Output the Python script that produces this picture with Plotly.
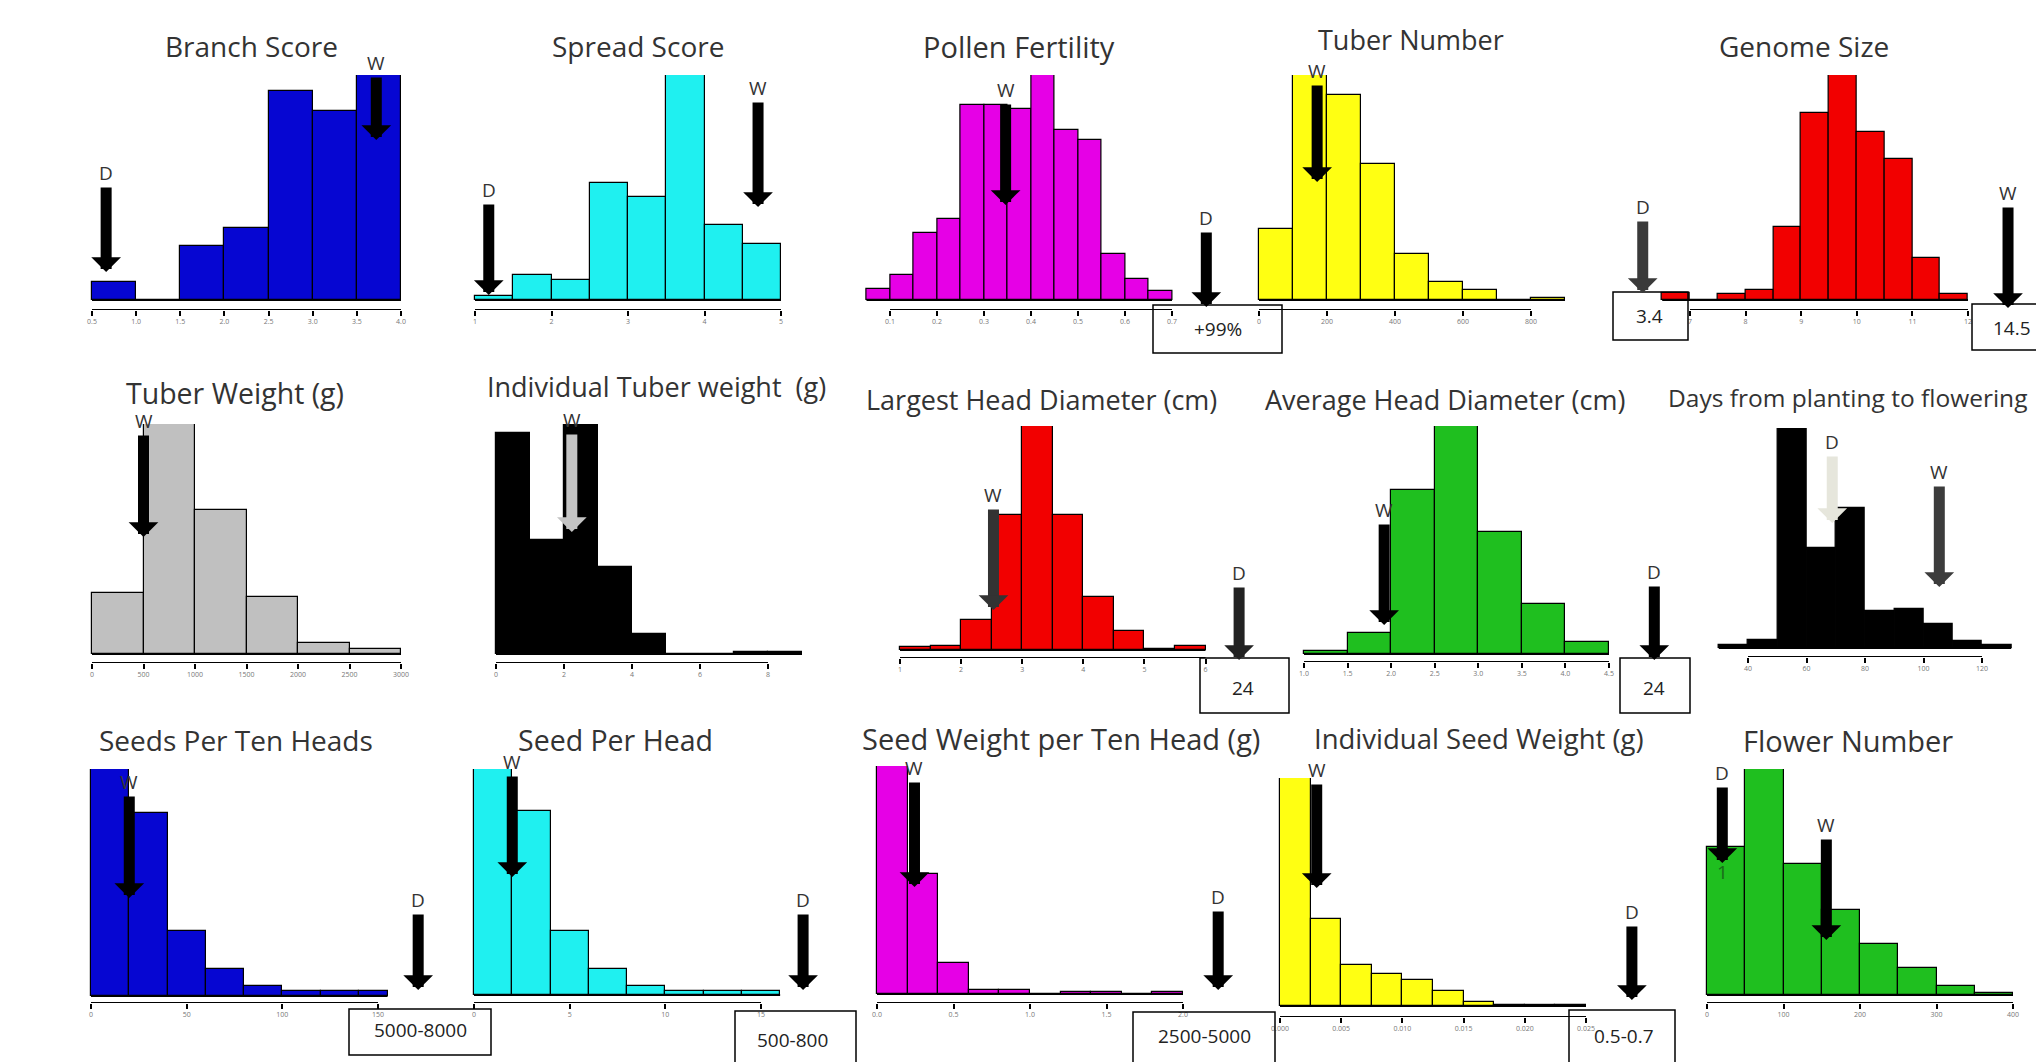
import plotly.graph_objects as go

FIG_W, FIG_H = 2036, 1062

# ------------------------------------------------------------------ data
branch_edges = [0.5, 1.0, 1.5, 2.0, 2.5, 3.0, 3.5, 4.0]
branch_counts = [8, 0, 24, 32, 93, 84, 100]
branch_ticks = [0.5, 1.0, 1.5, 2.0, 2.5, 3.0, 3.5, 4.0]
branch_labels = ["0.5", "1.0", "1.5", "2.0", "2.5", "3.0", "3.5", "4.0"]
branch_D, branch_W = 0.66, 3.72

spread_edges = [1.0, 1.5, 2.0, 2.5, 3.0, 3.5, 4.0, 4.5, 5.0]
spread_counts = [1.8, 11, 9, 52, 45.6, 100, 33.3, 25]
spread_ticks = [1, 2, 3, 4, 5]
spread_labels = ["1", "2", "3", "4", "5"]
spread_D, spread_W = 1.18, 4.7

pollen_edges = [0.05, 0.10, 0.15, 0.20, 0.25, 0.30, 0.35, 0.40, 0.45, 0.50, 0.55, 0.60, 0.65, 0.70]
pollen_counts = [5, 11, 30, 36, 86.7, 86.7, 85, 100, 75.5, 71, 20.4, 9.2, 4.1]
pollen_ticks = [0.1, 0.2, 0.3, 0.4, 0.5, 0.6, 0.7]
pollen_labels = ["0.1", "0.2", "0.3", "0.4", "0.5", "0.6", "0.7"]
pollen_D, pollen_W = 0.773, 0.346

tubnum_edges = [0, 100, 200, 300, 400, 500, 600, 700, 800, 900]
tubnum_counts = [31.4, 100, 91, 60.4, 20.3, 8.1, 4.4, 0, 1]
tubnum_ticks = [0, 200, 400, 600, 800]
tubnum_labels = ["0", "200", "400", "600", "800"]
tubnum_W = 171

genome_edges = [6.5, 7.0, 7.5, 8.0, 8.5, 9.0, 9.5, 10.0, 10.5, 11.0, 11.5, 12.0]
genome_counts = [3, 0, 2.7, 4.4, 32.6, 83, 100, 74.5, 62.5, 18.8, 2.5]
genome_ticks = [7, 8, 9, 10, 11, 12]
genome_labels = ["7", "8", "9", "10", "11", "12"]
genome_D, genome_W = 6.15, 12.72

tubwt_edges = [0, 500, 1000, 1500, 2000, 2500, 3000]
tubwt_counts = [26.7, 100, 62.4, 25, 4.9, 2]
tubwt_ticks = [0, 500, 1000, 1500, 2000, 2500, 3000]
tubwt_labels = ["0", "500", "1000", "1500", "2000", "2500", "3000"]
tubwt_W = 500

indtub_edges = [0, 1, 2, 3, 4, 5, 6, 7, 8, 9]
indtub_counts = [96.3, 49.5, 100, 38, 8.6, 0, 0, 1, 1]
indtub_ticks = [0, 2, 4, 6, 8]
indtub_labels = ["0", "2", "4", "6", "8"]
indtub_W = 2.23

lhead_edges = [1.0, 1.5, 2.0, 2.5, 3.0, 3.5, 4.0, 4.5, 5.0, 5.5, 6.0]
lhead_counts = [1.2, 1.8, 13.4, 60.3, 100, 60.3, 23.8, 8.6, 0.3, 1.8]
lhead_ticks = [1, 2, 3, 4, 5, 6]
lhead_labels = ["1", "2", "3", "4", "5", "6"]
lhead_D, lhead_W = 6.55, 2.53

ahead_edges = [1.0, 1.5, 2.0, 2.5, 3.0, 3.5, 4.0, 4.5]
ahead_counts = [1.5, 9.4, 72, 100, 53.5, 22, 5.4]
ahead_ticks = [1.0, 1.5, 2.0, 2.5, 3.0, 3.5, 4.0, 4.5]
ahead_labels = ["1.0", "1.5", "2.0", "2.5", "3.0", "3.5", "4.0", "4.5"]
ahead_D, ahead_W = 5.02, 1.92

days_edges = [30, 40, 50, 60, 70, 80, 90, 100, 110, 120, 130]
days_counts = [1.2, 3.5, 100, 45.5, 63.6, 17, 17.6, 11, 3.3, 1.2]
days_ticks = [40, 60, 80, 100, 120]
days_labels = ["40", "60", "80", "100", "120"]
days_D, days_W = 68.8, 105.4

sten_edges = [0, 20, 40, 60, 80, 100, 120, 140, 155]
sten_counts = [100, 80.6, 28.6, 12.1, 4.4, 2.2, 2.2, 2.2]
sten_ticks = [0, 50, 100, 150]
sten_labels = ["0", "50", "100", "150"]
sten_D, sten_W = 171, 20

sph_edges = [0, 2, 4, 6, 8, 10, 12, 14, 16]
sph_counts = [100, 81.2, 28.3, 11.5, 4, 1.9, 1.9, 1.9]
sph_ticks = [0, 5, 10, 15]
sph_labels = ["0", "5", "10", "15"]
sph_D, sph_W = 17.2, 2.0

swt_edges = [0, 0.2, 0.4, 0.6, 0.8, 1.0, 1.2, 1.4, 1.6, 1.8, 2.0]
swt_counts = [100, 52.5, 13.6, 1.9, 1.9, 0, 0.7, 0.7, 0, 0.7]
swt_ticks = [0.0, 0.5, 1.0, 1.5, 2.0]
swt_labels = ["0.0", "0.5", "1.0", "1.5", "2.0"]
swt_D, swt_W = 2.23, 0.245

isw_edges = [0, 0.0025, 0.005, 0.0075, 0.010, 0.0125, 0.015, 0.0175, 0.020, 0.0225, 0.025]
isw_counts = [100, 38.2, 18, 14, 11.4, 6.7, 1.9, 0.6, 0.6, 0.6]
isw_ticks = [0, 0.005, 0.010, 0.015, 0.020, 0.025]
isw_labels = ["0.000", "0.005", "0.010", "0.015", "0.020", "0.025"]
isw_D, isw_W = 0.02875, 0.003

flower_edges = [0, 50, 100, 150, 200, 250, 300, 350, 400]
flower_counts = [65.7, 100, 58, 37.6, 22.5, 11.8, 4.1, 0.74]
flower_ticks = [0, 100, 200, 300, 400]
flower_labels = ["0", "100", "200", "300", "400"]
flower_D, flower_W = 20, 156

# ------------------------------------------------------------------ layout spec (pixels)
panels = [
    dict(title="Branch Score", tsize=28, edges=branch_edges, counts=branch_counts, ticks=branch_ticks,
         labels=branch_labels, color="#0606d2", tickpx=(92, 401), base=300, top=75, axis=310, tpos=(251, 46),
         arrows=[("D", branch_D, 173, 272, "black"), ("W", branch_W, 63, 140, "black")], boxes=[]),
    dict(title="Spread Score", tsize=28, edges=spread_edges, counts=spread_counts, ticks=spread_ticks,
         labels=spread_labels, color="#1ff0f0", tickpx=(475, 781), base=300, top=75, axis=310, tpos=(638, 46),
         arrows=[("D", spread_D, 190, 295, "black"), ("W", spread_W, 88, 207, "black")], boxes=[]),
    dict(title="Pollen Fertility", tsize=29, edges=pollen_edges, counts=pollen_counts, ticks=pollen_ticks,
         labels=pollen_labels, color="#e600e6", tickpx=(890, 1172), base=300, top=75, axis=310, tpos=(1019, 46),
         arrows=[("W", pollen_W, 90, 205, "black"), ("D", pollen_D, 218, 307, "black")],
         boxes=[((1153, 305, 1282, 353), "+99%", (1218, 329))]),
    dict(title="Tuber Number", tsize=27, edges=tubnum_edges, counts=tubnum_counts, ticks=tubnum_ticks,
         labels=tubnum_labels, color="#ffff12", tickpx=(1259, 1531), base=300, top=75, axis=310, tpos=(1411, 39),
         arrows=[("W", tubnum_W, 71, 182, "black")], boxes=[]),
    dict(title="Genome Size", tsize=28, edges=genome_edges, counts=genome_counts, ticks=genome_ticks,
         labels=genome_labels, color="#f20000", tickpx=(1690, 1968), base=300, top=75, axis=310, tpos=(1804, 46),
         arrows=[("D", genome_D, 207, 293, "#3a3a3a"), ("W", genome_W, 193, 308, "black")],
         boxes=[((1613, 292, 1688, 340), "3.4", (1649, 316)), ((1972, 304, 2040, 350), "14.5", (2012, 328))]),
    dict(title="Tuber Weight (g)", tsize=28.5, edges=tubwt_edges, counts=tubwt_counts, ticks=tubwt_ticks,
         labels=tubwt_labels, color="#c0c0c0", tickpx=(92, 401), base=654, top=424, axis=663, tpos=(235, 393),
         arrows=[("W", tubwt_W, 421, 537, "black")], boxes=[]),
    dict(title="Individual Tuber weight  (g)", tsize=27, edges=indtub_edges, counts=indtub_counts,
         ticks=indtub_ticks, labels=indtub_labels, color="#000000", tickpx=(496, 768), base=654, top=424,
         axis=663, tpos=(656, 386), arrows=[("W", indtub_W, 420, 532, "#c4c4c4")], boxes=[]),
    dict(title="Largest Head Diameter (cm)", tsize=27, edges=lhead_edges, counts=lhead_counts, ticks=lhead_ticks,
         labels=lhead_labels, color="#f20000", tickpx=(900, 1205.5), base=650, top=426, axis=658, tpos=(1041, 400),
         arrows=[("W", lhead_W, 495, 610, "#333333"), ("D", lhead_D, 573, 660, "#222222")],
         boxes=[((1200, 658, 1289, 713), "24", (1243, 688))]),
    dict(title="Average Head Diameter (cm)", tsize=27, edges=ahead_edges, counts=ahead_counts, ticks=ahead_ticks,
         labels=ahead_labels, color="#1fbf1f", tickpx=(1304, 1609), base=654, top=426, axis=662, tpos=(1445, 400),
         arrows=[("W", ahead_W, 510, 625, "black"), ("D", ahead_D, 572, 660, "black")],
         boxes=[((1620, 658, 1690, 713), "24", (1654, 688))]),
    dict(title="Days from planting to flowering", tsize=24.5, edges=days_edges, counts=days_counts,
         ticks=days_ticks, labels=days_labels, color="#000000", tickpx=(1748, 1982), base=648, top=428,
         axis=657, tpos=(1847, 397),
         arrows=[("D", days_D, 442, 523, "#e6e6dc"), ("W", days_W, 472, 587, "#3c3c3c")], boxes=[]),
    dict(title="Seeds Per Ten Heads", tsize=28, edges=sten_edges, counts=sten_counts, ticks=sten_ticks,
         labels=sten_labels, color="#0606d2", tickpx=(91, 378), base=996, top=769, axis=1003, tpos=(236, 740),
         arrows=[("W", sten_W, 782, 898, "black"), ("D", sten_D, 900, 990, "black")],
         boxes=[((349, 1009, 491, 1055), "5000-8000", (420, 1030))]),
    dict(title="Seed Per Head", tsize=28.5, edges=sph_edges, counts=sph_counts, ticks=sph_ticks,
         labels=sph_labels, color="#1ff0f0", tickpx=(474, 761), base=995, top=769, axis=1003, tpos=(615, 740),
         arrows=[("W", sph_W, 762, 877, "black"), ("D", sph_D, 900, 990, "black")],
         boxes=[((735, 1011, 856, 1064), "500-800", (792, 1040))]),
    dict(title="Seed Weight per Ten Head (g)", tsize=29, edges=swt_edges, counts=swt_counts, ticks=swt_ticks,
         labels=swt_labels, color="#e600e6", tickpx=(877, 1183), base=994, top=766, axis=1003, tpos=(1061, 738),
         arrows=[("W", swt_W, 768, 887, "black"), ("D", swt_D, 897, 990, "black")],
         boxes=[((1133, 1012, 1275, 1064), "2500-5000", (1204, 1036))]),
    dict(title="Individual Seed Weight (g)", tsize=27.5, edges=isw_edges, counts=isw_counts, ticks=isw_ticks,
         labels=isw_labels, color="#ffff12", tickpx=(1280, 1586), base=1006, top=778, axis=1017, tpos=(1479, 738),
         arrows=[("W", isw_W, 770, 888, "black"), ("D", isw_D, 912, 1000, "black")],
         boxes=[((1569, 1010, 1675, 1064), "0.5-0.7", (1624, 1036))]),
    dict(title="Flower Number", tsize=29, edges=flower_edges, counts=flower_counts, ticks=flower_ticks,
         labels=flower_labels, color="#1fbf1f", tickpx=(1707, 2013), base=995, top=769, axis=1003, tpos=(1848, 740),
         arrows=[("D", flower_D, 773, 863, "black"), ("W", flower_W, 825, 940, "black")], boxes=[]),
]

FONT = "Open Sans, Liberation Sans, sans-serif"
PAD_PX = 16

fig = go.Figure()
layout = dict(width=FIG_W, height=FIG_H, margin=dict(l=0, r=0, t=0, b=0),
              paper_bgcolor="white", plot_bgcolor="rgba(0,0,0,0)", showlegend=False, bargap=0)
shapes, annotations = [], []

for i, p in enumerate(panels, start=1):
    xs = "" if i == 1 else str(i)
    xref, yref = "x" + xs, "y" + xs
    edges, counts, ticks = p["edges"], p["counts"], p["ticks"]
    arrow_vals = [a[1] for a in p["arrows"]]
    # x geometry: range covers bars, ticks and the D/W markers
    px0, px1 = p["tickpx"]
    ppu = (px1 - px0) / (ticks[-1] - ticks[0])
    lo = min([edges[0], ticks[0]] + arrow_vals)
    hi = max([edges[-1], ticks[-1]] + arrow_vals)
    r0 = lo - PAD_PX / ppu
    r1 = hi + PAD_PX / ppu
    d0 = (px0 + (r0 - ticks[0]) * ppu) / FIG_W
    d1 = (px0 + (r1 - ticks[0]) * ppu) / FIG_W
    if d0 < 0:
        r0 = ticks[0] - px0 / ppu
        d0 = 0
    if d1 > 1:
        r1 = ticks[0] + (FIG_W - px0) / ppu
        d1 = 1
    # y geometry
    ymax = max(counts)
    g = (p["axis"] - p["base"]) / (p["base"] - p["top"])
    yd0 = 1 - p["axis"] / FIG_H
    yd1 = 1 - p["top"] / FIG_H

    centers = [(a + b) / 2 for a, b in zip(edges[:-1], edges[1:])]
    widths = [b - a for a, b in zip(edges[:-1], edges[1:])]
    fig.add_trace(go.Bar(x=centers, y=counts, width=widths, xaxis=xref, yaxis=yref,
                         marker=dict(color=p["color"], line=dict(color="black", width=1.2)),
                         hoverinfo="skip"))

    layout["xaxis" + xs] = dict(domain=[d0, d1], range=[r0, r1], anchor=yref,
                                showgrid=False, zeroline=False, showline=False,
                                tickmode="array", tickvals=ticks, ticktext=p["labels"],
                                ticks="outside", ticklen=5, tickwidth=1.5, tickcolor="black",
                                tickfont=dict(size=7, color="#777777", family=FONT), fixedrange=True)
    layout["yaxis" + xs] = dict(domain=[yd0, yd1], range=[-g * ymax, ymax], anchor=xref,
                                visible=False, fixedrange=True)

    # baseline under bars and the axis line between first and last tick
    shapes.append(dict(type="line", xref=xref, yref=yref, x0=edges[0], x1=edges[-1], y0=0, y1=0,
                       line=dict(color="black", width=2)))
    shapes.append(dict(type="line", xref=xref, yref=yref, x0=ticks[0], x1=ticks[-1],
                       y0=-g * ymax, y1=-g * ymax, line=dict(color="black", width=2)))

    # title
    annotations.append(dict(text=p["title"], xref="paper", yref="paper",
                            x=p["tpos"][0] / FIG_W, y=1 - p["tpos"][1] / FIG_H,
                            xanchor="center", yanchor="middle", showarrow=False,
                            font=dict(size=p["tsize"], color="#333333", family=FONT)))
    # D / W arrows
    for lab, val, lab_px, head_px, col in p["arrows"]:
        annotations.append(dict(text=lab, x=val, xref=xref, y=1 - head_px / FIG_H, yref="paper",
                                showarrow=True, axref="pixel", ayref="pixel", ax=0, ay=lab_px - head_px,
                                arrowhead=1, arrowwidth=11, arrowsize=0.45, arrowcolor=col,
                                font=dict(size=19, color="#333333", family=FONT)))
    # value boxes
    for (bx0, by0, bx1, by1), txt, (tx, ty) in p["boxes"]:
        shapes.append(dict(type="rect", xref="paper", yref="paper",
                           x0=bx0 / FIG_W, x1=bx1 / FIG_W, y0=1 - by1 / FIG_H, y1=1 - by0 / FIG_H,
                           line=dict(color="black", width=1.5), fillcolor="rgba(0,0,0,0)"))
        annotations.append(dict(text=txt, xref="paper", yref="paper", x=tx / FIG_W, y=1 - ty / FIG_H,
                                xanchor="center", yanchor="middle", showarrow=False,
                                font=dict(size=19, color="#222222", family=FONT)))

# small "1" inside the first Flower Number bar
annotations.append(dict(text="1", x=flower_D, xref="x15", y=1 - 887 / FIG_H, yref="paper",
                        showarrow=False, font=dict(size=19, color="#1a6a1a", family=FONT)))

layout["shapes"] = shapes
layout["annotations"] = annotations
fig.update_layout(**layout)
fig.write_html("out.html", config={"displayModeBar": False},
               post_script="document.body.style.margin='0';document.body.style.overflow='hidden';")
